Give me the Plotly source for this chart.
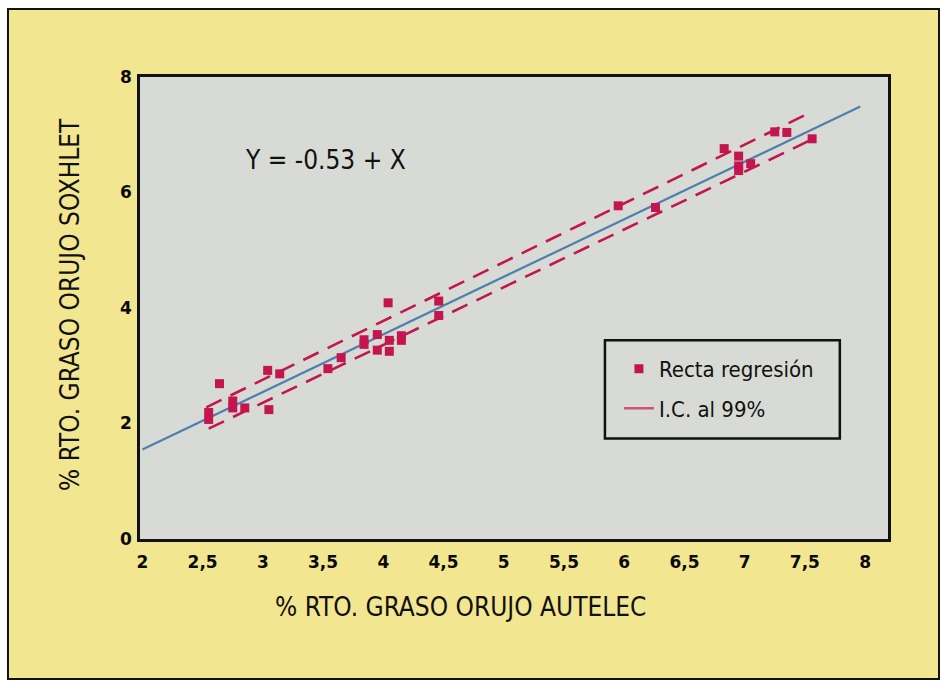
import plotly.graph_objects as go

# ---- data ----
autelec = [2.64, 2.55, 2.55, 2.75, 2.75, 2.85, 3.04, 3.14, 3.05, 3.54, 3.65,
           3.84, 3.84, 3.95, 3.95, 4.05, 4.05, 4.15, 4.15, 4.04, 4.46, 4.46,
           5.95, 6.26, 6.83, 6.95, 6.95, 6.95, 7.05, 7.25, 7.35, 7.56]
soxhlet = [2.69, 2.19, 2.07, 2.39, 2.27, 2.27, 2.92, 2.86, 2.24, 2.95, 3.14,
           3.45, 3.37, 3.54, 3.27, 3.44, 3.25, 3.52, 3.44, 4.09, 4.12, 3.87,
           5.77, 5.74, 6.76, 6.63, 6.46, 6.38, 6.50, 7.05, 7.04, 6.93]

reg_x = [2.0, 7.96]
reg_y = [1.55, 7.49]
ci_up_x = [2.53, 7.54]
ci_up_y = [2.28, 7.38]
ci_lo_x = [2.55, 7.56]
ci_lo_y = [1.91, 6.92]

x_ticks = [2, 2.5, 3, 3.5, 4, 4.5, 5, 5.5, 6, 6.5, 7, 7.5, 8]
x_tick_labels = ["2", "2,5", "3", "3,5", "4", "4,5", "5", "5,5", "6", "6,5", "7", "7,5", "8"]
y_ticks = [0, 2, 4, 6, 8]
y_tick_labels = ["0", "2", "4", "6", "8"]

equation = "Y = -0.53 + X"
x_title = "% RTO. GRASO ORUJO AUTELEC"
y_title = "% RTO. GRASO ORUJO SOXHLET"

RED = "#c3164e"
BLUE = "#4f7fae"
YELLOW = "#f3e690"
GREY = "#d8dbd5"
NARROW = "Liberation Sans Narrow, Arial Narrow, DejaVu Sans Condensed, Liberation Sans, sans-serif"
TICKF = dict(family="DejaVu Sans", size=17, color="#0a0a0a", weight="bold")

fig = go.Figure()
fig.add_trace(go.Scatter(x=reg_x, y=reg_y, mode="lines", showlegend=False,
                         line=dict(color=BLUE, width=2.2)))
fig.add_trace(go.Scatter(x=ci_up_x, y=ci_up_y, mode="lines", showlegend=False,
                         line=dict(color=RED, width=2.6, dash="17px,10px")))
fig.add_trace(go.Scatter(x=ci_lo_x, y=ci_lo_y, mode="lines", showlegend=False,
                         line=dict(color=RED, width=2.6, dash="17px,10px")))
fig.add_trace(go.Scatter(x=autelec, y=soxhlet, mode="markers", name="Recta regresión",
                         legendgroup="a",
                         marker=dict(symbol="square", size=9, color=RED)))
fig.add_trace(go.Scatter(x=[None], y=[None], mode="lines", name="I.C. al 99%",
                         legendgroup="b",
                         line=dict(color="#d0507a", width=2.5)))

# plot-area pixel geometry: left 140, right 888, top 77, bottom 539
fig.update_layout(
    width=942, height=682,
    margin=dict(l=140, r=54, t=77, b=143, pad=0),
    paper_bgcolor="white",
    plot_bgcolor=GREY,
    font=dict(family=NARROW, color="#111111"),
    xaxis=dict(range=[1.98, 8.19], tickvals=x_ticks, ticktext=x_tick_labels,
               showgrid=False, zeroline=False, showline=True, mirror=True,
               linecolor="#111111", linewidth=2.5, ticks="", tickfont=TICKF,
               ticklabelstandoff=6),
    yaxis=dict(range=[0, 8], tickvals=y_ticks, ticktext=y_tick_labels,
               showgrid=False, zeroline=False, showline=True, mirror=True,
               linecolor="#111111", linewidth=2.5, ticks="", tickfont=TICKF,
               ticklabelstandoff=2),
    showlegend=True,
    legend=dict(x=0.6403, y=0.4137, xanchor="left", yanchor="top",
                bgcolor="rgba(0,0,0,0)", borderwidth=0,
                font=dict(family=NARROW, size=22, color="#111111"),
                tracegroupgap=8, traceorder="grouped"),
    shapes=[
        # yellow card with black frame
        dict(type="rect", xref="paper", yref="paper", layer="below",
             x0=-0.1765, x1=1.0682, y0=-0.303, y1=1.147,
             fillcolor=YELLOW, line=dict(color="#111111", width=2)),
        # plot-area background
        dict(type="rect", xref="paper", yref="paper", layer="below",
             x0=0, x1=1, y0=0, y1=1, fillcolor=GREY, line=dict(width=0)),
        # legend box
        dict(type="rect", xref="x", yref="y", layer="above",
             x0=5.84, x1=7.79, y0=1.74, y1=3.44,
             fillcolor="rgba(0,0,0,0)", line=dict(color="#111111", width=2.5)),
    ],
    annotations=[
        dict(text=equation, xref="paper", yref="paper", x=(325 - 140) / 748,
             y=(539 - 160) / 462, xanchor="center", yanchor="middle", showarrow=False,
             font=dict(family=NARROW, size=26, color="#111111")),
        dict(text=x_title, xref="paper", yref="paper", x=(460 - 140) / 748,
             y=(539 - 607) / 462, xanchor="center", yanchor="middle", showarrow=False,
             font=dict(family=NARROW, size=26, color="#111111")),
        dict(text=y_title, xref="paper", yref="paper", x=(70 - 140) / 748,
             y=(539 - 305) / 462, xanchor="center", yanchor="middle", showarrow=False,
             textangle=-90,
             font=dict(family=NARROW, size=26, color="#111111")),
    ],
)

fig.write_html("out.html", config={"displayModeBar": False},
               post_script="document.body.style.margin='0';")
